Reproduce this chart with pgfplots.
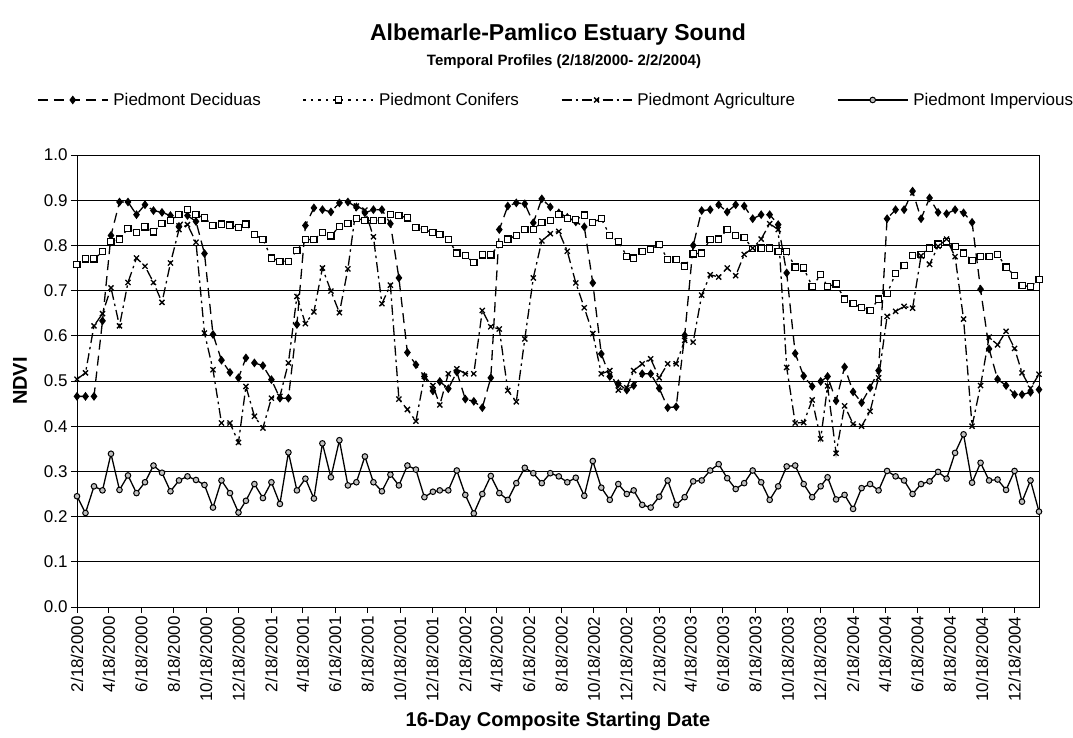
\documentclass[border=0pt]{standalone}
\usepackage{fontspec}
\setmainfont{Liberation Sans}
\usepackage{pgfplots}
\pgfplotsset{compat=1.18}
\usepackage{pgfplotstable}

\pgfplotstableread{
d dec con agr imp
0 0.466 0.758 0.504 0.245
16 0.466 0.770 0.518 0.208
32 0.466 0.770 0.622 0.267
48 0.633 0.786 0.649 0.258
64 0.822 0.809 0.706 0.339
80 0.896 0.814 0.622 0.259
96 0.896 0.837 0.718 0.291
112 0.868 0.829 0.772 0.252
128 0.890 0.841 0.754 0.276
144 0.877 0.830 0.718 0.313
160 0.873 0.848 0.674 0.297
176 0.866 0.855 0.761 0.256
192 0.842 0.868 0.835 0.280
208 0.866 0.879 0.846 0.289
224 0.853 0.868 0.807 0.281
240 0.782 0.861 0.606 0.270
256 0.603 0.844 0.525 0.220
272 0.546 0.847 0.407 0.280
288 0.519 0.845 0.407 0.252
304 0.507 0.840 0.364 0.209
318 0.551 0.847 0.488 0.235
334 0.540 0.824 0.422 0.272
350 0.534 0.813 0.396 0.241
366 0.503 0.772 0.462 0.276
382 0.462 0.765 0.466 0.228
398 0.462 0.765 0.540 0.342
414 0.625 0.789 0.687 0.258
430 0.844 0.813 0.627 0.284
446 0.883 0.813 0.653 0.240
462 0.879 0.828 0.750 0.362
478 0.874 0.821 0.699 0.287
494 0.894 0.842 0.651 0.369
510 0.896 0.849 0.748 0.269
526 0.885 0.860 0.887 0.276
542 0.872 0.855 0.878 0.333
558 0.879 0.855 0.819 0.276
574 0.879 0.855 0.671 0.256
590 0.848 0.868 0.712 0.293
606 0.728 0.866 0.460 0.269
622 0.563 0.861 0.437 0.313
638 0.536 0.840 0.411 0.304
654 0.510 0.835 0.510 0.243
670 0.478 0.828 0.490 0.255
683 0.499 0.824 0.447 0.258
699 0.483 0.813 0.516 0.258
715 0.520 0.783 0.527 0.302
731 0.460 0.777 0.516 0.248
747 0.455 0.762 0.516 0.207
763 0.441 0.779 0.656 0.250
779 0.507 0.779 0.620 0.290
795 0.835 0.802 0.615 0.252
811 0.887 0.814 0.479 0.237
827 0.894 0.822 0.454 0.274
843 0.892 0.835 0.593 0.308
859 0.850 0.835 0.728 0.296
875 0.903 0.851 0.810 0.274
891 0.885 0.855 0.826 0.296
907 0.872 0.868 0.831 0.289
923 0.862 0.859 0.787 0.276
939 0.852 0.857 0.717 0.286
955 0.841 0.867 0.662 0.246
971 0.717 0.851 0.605 0.323
987 0.560 0.859 0.516 0.264
1003 0.510 0.822 0.523 0.237
1019 0.494 0.809 0.480 0.272
1035 0.480 0.776 0.485 0.250
1048 0.490 0.772 0.523 0.258
1064 0.516 0.787 0.538 0.226
1080 0.516 0.791 0.549 0.220
1096 0.484 0.802 0.507 0.244
1112 0.441 0.769 0.538 0.280
1128 0.443 0.769 0.538 0.226
1144 0.601 0.754 0.590 0.243
1160 0.800 0.781 0.586 0.278
1176 0.877 0.783 0.690 0.280
1192 0.879 0.813 0.735 0.302
1208 0.890 0.814 0.730 0.316
1224 0.874 0.835 0.750 0.285
1240 0.890 0.822 0.733 0.261
1256 0.887 0.817 0.780 0.274
1272 0.859 0.793 0.794 0.302
1288 0.868 0.794 0.814 0.276
1304 0.868 0.794 0.848 0.237
1320 0.846 0.787 0.835 0.267
1336 0.739 0.787 0.530 0.311
1352 0.561 0.752 0.407 0.313
1368 0.511 0.750 0.408 0.272
1384 0.488 0.709 0.458 0.243
1400 0.499 0.735 0.372 0.267
1413 0.510 0.709 0.489 0.287
1429 0.456 0.715 0.340 0.238
1445 0.531 0.681 0.445 0.248
1461 0.476 0.671 0.405 0.217
1477 0.452 0.662 0.400 0.263
1493 0.485 0.656 0.433 0.272
1509 0.523 0.681 0.507 0.258
1525 0.859 0.693 0.643 0.301
1541 0.879 0.738 0.654 0.289
1557 0.879 0.755 0.665 0.280
1573 0.920 0.777 0.661 0.250
1589 0.859 0.780 0.777 0.272
1605 0.905 0.794 0.758 0.278
1621 0.873 0.803 0.798 0.299
1637 0.870 0.809 0.814 0.284
1653 0.879 0.798 0.775 0.341
1669 0.872 0.783 0.637 0.382
1685 0.851 0.767 0.400 0.275
1701 0.703 0.776 0.490 0.319
1717 0.571 0.776 0.597 0.280
1733 0.504 0.780 0.580 0.282
1749 0.490 0.752 0.610 0.259
1765 0.470 0.733 0.572 0.301
1779 0.470 0.711 0.518 0.233
1795 0.475 0.709 0.484 0.280
1811 0.481 0.724 0.515 0.211
}\data

\begin{document}
\begin{tikzpicture}[x=1pt,y=1pt]
\useasboundingbox (-77,-131) rectangle (996,607);
\begin{axis}[
  at={(0,0)}, anchor=south west,
  scale only axis, width=962pt, height=452pt,
  xmin=0, xmax=1811, ymin=0, ymax=1,
  ytick={0,0.1,0.2,0.3,0.4,0.5,0.6,0.7,0.8,0.9,1.0},
  yticklabels={0.0,0.1,0.2,0.3,0.4,0.5,0.6,0.7,0.8,0.9,1.0},
  xtick={0,60,121,182,243,304,366,425,486,547,608,669,731,790,851,912,973,1034,1096,1155,1216,1277,1338,1399,1461,1521,1582,1643,1704,1765},
  xticklabels={2/18/2000,4/18/2000,6/18/2000,8/18/2000,10/18/2000,12/18/2000,2/18/2001,4/18/2001,6/18/2001,8/18/2001,10/18/2001,12/18/2001,2/18/2002,4/18/2002,6/18/2002,8/18/2002,10/18/2002,12/18/2002,2/18/2003,4/18/2003,6/18/2003,8/18/2003,10/18/2003,12/18/2003,2/18/2004,4/18/2004,6/18/2004,8/18/2004,10/18/2004,12/18/2004},
  x tick label style={rotate=90, anchor=east, font=\fontsize{17}{17}\selectfont},
  y tick label style={font=\fontsize{17}{17}\selectfont},
  ymajorgrids, grid style={black, line width=0.9pt},
  tick align=outside, major tick length=6pt,
  xtick pos=bottom, ytick pos=left,
  axis line style={black, line width=0.9pt},
  tick style={black, line width=0.9pt},
  ylabel={NDVI},
  ylabel style={font=\bfseries\fontsize{20}{20}\selectfont, at={(axis description cs:-0.0593,0.5)}, anchor=center},
  xlabel={16-Day Composite Starting Date},
  xlabel style={font=\bfseries\fontsize{20}{20}\selectfont, at={(axis description cs:0.5,-0.254)}, anchor=center},
  legend columns=4,
  legend style={draw=none, fill=none, at={(axis description cs:0.498,1.1217)}, anchor=center,
    font=\fontsize{17}{17}\selectfont,
    /tikz/every odd column/.append style={column sep=3pt},
    /tikz/every even column/.append style={column sep=40pt}},
  legend image code/.code={\draw[mark repeat=2,mark phase=2] plot coordinates {(0pt,0pt) (35pt,0pt) (70pt,0pt)};},
]
\addplot[black, line width=1.3pt, dash pattern=on 10pt off 6pt, mark=diamond*, mark size=3.4pt, mark options={solid, fill=black}] table[x=d, y=dec] {\data};
\addlegendentry{Piedmont Deciduas}
\addplot[black, line width=1.3pt, dash pattern=on 2.5pt off 5pt, mark=square*, mark size=3.1pt, mark options={solid, fill=white, line width=1.2pt}] table[x=d, y=con] {\data};
\addlegendentry{Piedmont Conifers}
\addplot[black, line width=1.3pt, dash pattern=on 10pt off 4pt on 2.5pt off 4pt, mark=x, mark size=3.6pt, mark options={solid, line width=1.3pt}] table[x=d, y=agr] {\data};
\addlegendentry{Piedmont Agriculture}
\addplot[black, line width=1.3pt, mark=*, mark size=2.8pt, mark options={solid, fill=gray!50, line width=1pt}] table[x=d, y=imp] {\data};
\addlegendentry{Piedmont Impervious}
\end{axis}
\node[font=\bfseries\fontsize{23}{23}\selectfont] at (481,572) {Albemarle-Pamlico Estuary Sound};
\node[font=\bfseries\fontsize{15}{15}\selectfont] at (487,545) {Temporal Profiles (2/18/2000- 2/2/2004)};
\end{tikzpicture}
\end{document}
